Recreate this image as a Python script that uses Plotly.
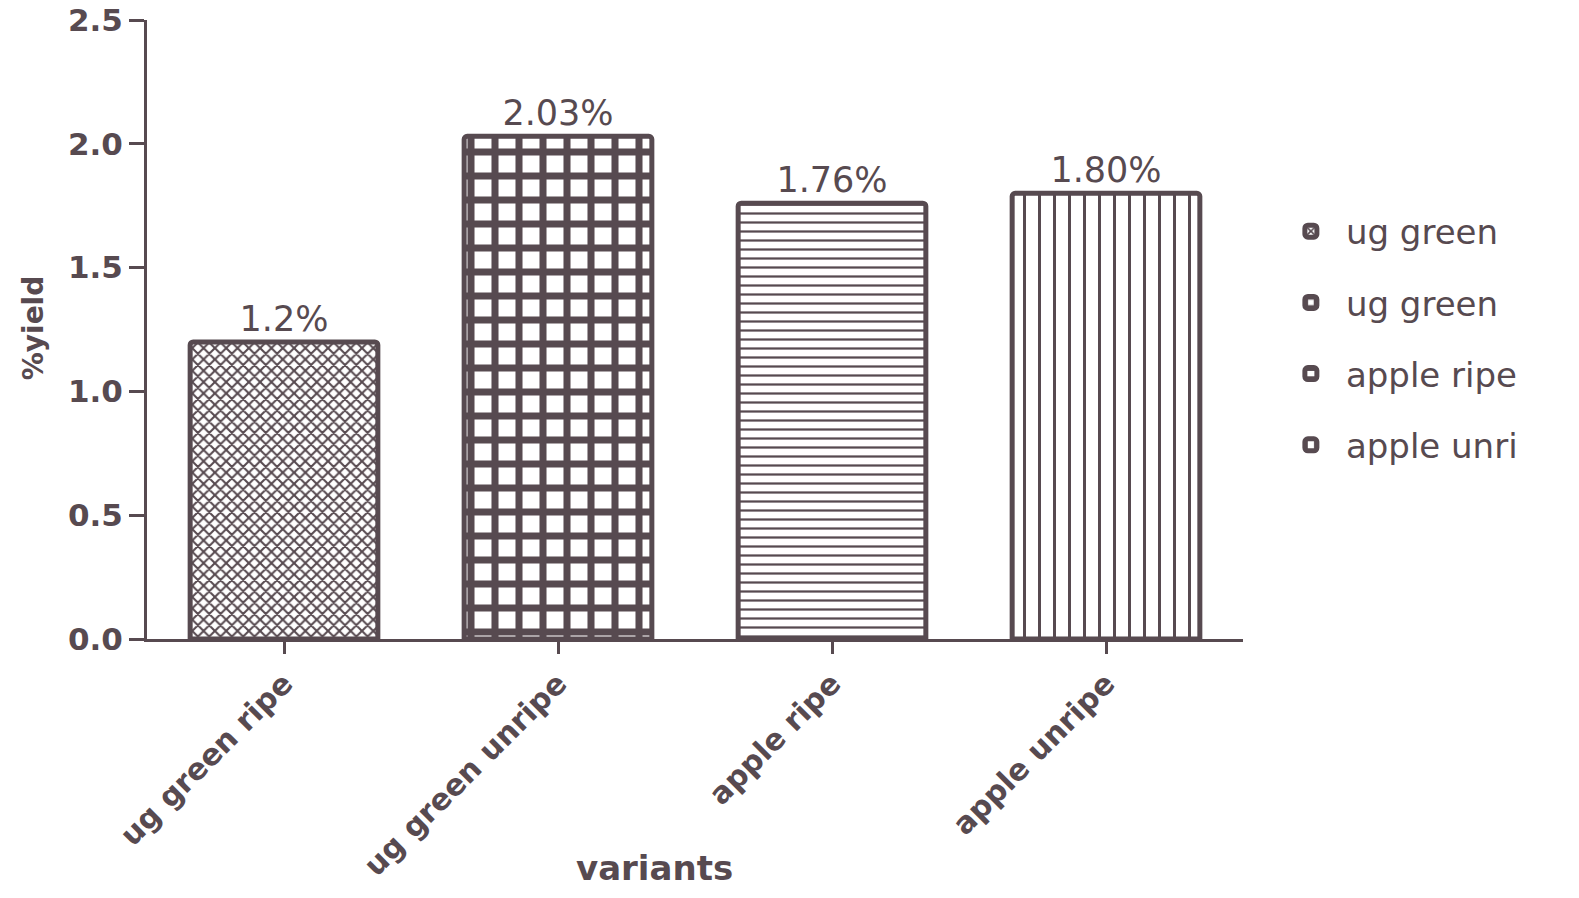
import plotly.graph_objects as go

categories = ["ug green ripe", "ug green unripe", "apple ripe", "apple unripe"]
values = [1.2, 2.03, 1.76, 1.80]
bar_labels = ["1.2%", "2.03%", "1.76%", "1.80%"]
legend_names = ["ug green", "ug green", "apple ripe", "apple unri"]
y_ticks = [0.0, 0.5, 1.0, 1.5, 2.0, 2.5]

INK = "#574a50"
patterns = [
    dict(shape="x", size=8, solidity=0.45),
    dict(shape="+", size=24, solidity=0.5),
    dict(shape="-", size=9, solidity=0.25),
    dict(shape="|", size=15, solidity=0.2),
]

fig = go.Figure()
for i, (cat, val, lab, name, pat) in enumerate(zip(categories, values, bar_labels, legend_names, patterns)):
    fig.add_trace(go.Bar(
        x=[cat], y=[val], name=name, text=[lab],
        textposition="outside",
        textfont=dict(family="DejaVu Sans", size=35, color=INK),
        width=0.685,
        legendgroup=f"g{i}",
        marker=dict(
            color="white",
            line=dict(color=INK, width=5),
            pattern=dict(fgcolor=INK, bgcolor="white", fillmode="replace", **pat),
            cornerradius=3,
        ),
        cliponaxis=False,
    ))

fig.update_layout(
    width=1579, height=898,
    margin=dict(l=147, r=336, t=20, b=259, autoexpand=False),
    paper_bgcolor="white", plot_bgcolor="white",
    barmode="overlay",
    showlegend=True,
    legend=dict(
        x=1.03, xanchor="left", y=0.705, yanchor="top",
        font=dict(family="DejaVu Sans", size=34, color=INK),
        tracegroupgap=24, traceorder="grouped",
        itemwidth=60,
        bgcolor="rgba(0,0,0,0)",
    ),
    font=dict(family="DejaVu Sans", color=INK),
    annotations=[
        dict(text="<b>variants</b>", xref="paper", yref="paper", x=0.4635, y=-0.37,
             xanchor="center", yanchor="middle", showarrow=False,
             font=dict(family="DejaVu Sans", size=34, color=INK)),
        dict(text="<b>%yield</b>", xref="paper", yref="paper", x=-0.104, y=0.502,
             xanchor="center", yanchor="middle", showarrow=False, textangle=-90,
             font=dict(family="DejaVu Sans", size=28, color=INK)),
    ],
)

fig.update_xaxes(
    type="category", categoryorder="array", categoryarray=categories,
    range=[-0.5, 3.5], automargin=False,
    showline=True, linecolor=INK, linewidth=3,
    ticks="outside", ticklen=12, tickwidth=3, tickcolor=INK,
    tickangle=-45,
    tickfont=dict(family="DejaVu Sans", size=30, color=INK, weight="bold"),
    showgrid=False, zeroline=False,
)
fig.update_yaxes(
    range=[0, 2.5], tickvals=y_ticks, tickformat=".1f", automargin=False,
    showline=True, linecolor=INK, linewidth=3,
    ticks="outside", ticklen=15, tickwidth=3, tickcolor=INK,
    tickfont=dict(family="DejaVu Sans", size=31, color=INK, weight="bold"),
    showgrid=False, zeroline=False,
)

fig.write_html(
    "out.html",
    config={"displayModeBar": False},
    post_script="document.body.style.margin='0';document.body.style.overflow='hidden';",
)
